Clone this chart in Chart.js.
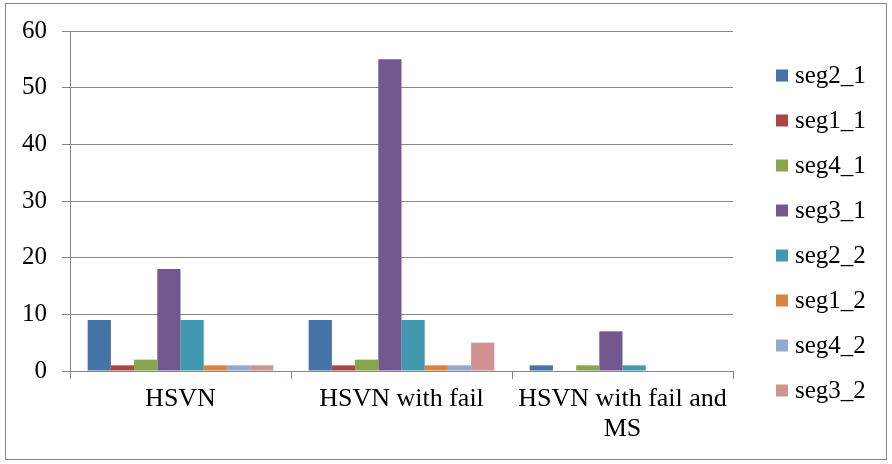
<!DOCTYPE html>
<html lang="en">
<head>
    <meta charset="UTF-8">
    <title>HSVN segments</title>
    <script src="https://cdn.jsdelivr.net/npm/chart.js@4.4.0/dist/chart.umd.min.js"></script>
    <style>
        body { margin: 0; background: #fff; }
        .wrap { position: relative; width: 892px; height: 464px; }
    </style>
</head>
<body>
    <div class="wrap"><canvas id="chart" width="892" height="464"></canvas></div>

    <script>
        // categories (multi-line labels as arrays)
        const categories = [['HSVN'], ['HSVN with fail'], ['HSVN with fail and', 'MS']];

        // series values, one per category
        const seg2_1 = [9, 9, 1];
        const seg1_1 = [1, 1, 0];
        const seg4_1 = [2, 2, 1];
        const seg3_1 = [18, 55, 7];
        const seg2_2 = [9, 9, 1];
        const seg1_2 = [1, 1, 0];
        const seg4_2 = [1, 1, 0];
        const seg3_2 = [1, 5, 0];

        const seriesNames = ['seg2_1', 'seg1_1', 'seg4_1', 'seg3_1', 'seg2_2', 'seg1_2', 'seg4_2', 'seg3_2'];
        const seriesValues = [seg2_1, seg1_1, seg4_1, seg3_1, seg2_2, seg1_2, seg4_2, seg3_2];
        const seriesColors = ['#4572A7', '#AA4643', '#89A54E', '#71588F', '#4198AF', '#DB843D', '#93A9CF', '#D19392'];

        const yTicks = [0, 10, 20, 30, 40, 50, 60];

        const gridColor = '#868686';
        const serif = "'Liberation Serif', 'Times New Roman', serif";

        // frame round the whole chart + legend on the right
        const framePlugin = {
            id: 'frame',
            afterDraw(chart) {
                const ctx = chart.ctx;
                ctx.save();
                ctx.strokeStyle = '#888';
                ctx.lineWidth = 1;
                ctx.strokeRect(5.5, 3.5, 881, 456);

                ctx.font = '25px ' + serif;
                ctx.textBaseline = 'middle';
                ctx.textAlign = 'left';
                chart.data.datasets.forEach((ds, i) => {
                    const cy = 75.5 + i * 45;
                    ctx.fillStyle = ds.backgroundColor;
                    ctx.fillRect(776, cy - 6, 12, 12);
                    ctx.fillStyle = '#000';
                    ctx.fillText(ds.label, 795, cy + 1);
                });
                ctx.restore();
            }
        };

        const datasets = seriesNames.map((name, i) => ({
            label: name,
            data: seriesValues[i],
            backgroundColor: seriesColors[i],
            borderWidth: 0,
            categoryPercentage: 0.84,
            barPercentage: 1.0
        }));

        new Chart(document.getElementById('chart'), {
            type: 'bar',
            data: { labels: categories, datasets: datasets },
            options: {
                responsive: false,
                animation: false,
                devicePixelRatio: 1,
                layout: { padding: { top: 31, right: 159, left: 0, bottom: 0 } },
                plugins: {
                    legend: { display: false },
                    tooltip: { enabled: false }
                },
                scales: {
                    x: {
                        afterFit: s => { s.height = 93; },
                        grid: {
                            display: true,
                            drawOnChartArea: false,
                            drawTicks: true,
                            tickLength: 8,
                            color: gridColor,
                            offset: true
                        },
                        border: { display: true, color: gridColor, width: 1 },
                        ticks: {
                            color: '#000',
                            font: { family: serif, size: 26, lineHeight: 1.15 },
                            padding: 5,
                            maxRotation: 0,
                            autoSkip: false
                        }
                    },
                    y: {
                        min: 0,
                        max: 60,
                        afterFit: s => { s.width = 70; },
                        afterBuildTicks: s => { s.ticks = yTicks.map(v => ({ value: v })); },
                        grid: { color: gridColor, tickLength: 8, lineWidth: 1 },
                        border: { display: true, color: gridColor, width: 1 },
                        ticks: {
                            color: '#000',
                            font: { family: serif, size: 25 },
                            padding: 15
                        }
                    }
                }
            },
            plugins: [framePlugin]
        });
    </script>
</body>
</html>
